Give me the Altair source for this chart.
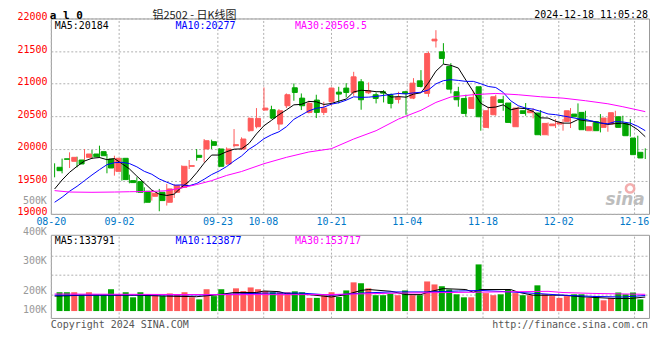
import altair as alt
import pandas as pd

MONO = "DejaVu Sans Mono"
CJK = "Noto Sans CJK SC"

# ---------------- data ----------------
tick_idx = [0, 9, 22, 28, 37, 47, 57, 67, 77]
tick_lbl = ["08-20", "09-02", "09-23", "10-08", "10-21", "11-04", "11-18", "12-02", "12-16"]

opens = [19715, 19845, 19807, 19827, 19868, 19919, 19955, 19842, 19653, 19853,
         19510, 19495, 19347, 19270, 19331, 19178, 19331, 19408, 19730, 19899,
         19996, 20108, 19996, 19766, 20047, 19996, 20277, 20338, 20594, 20599,
         20379, 20660, 20936, 20777, 20558, 20747, 20558, 20721, 20869, 20931,
         20864, 21028, 20859, 20829, 20875, 20829, 20757, 20875, 20777, 21043,
         20849, 21656, 21488, 21263, 20875, 20772, 20619, 20951, 20328, 20522,
         20752, 20701, 20338, 20583, 20553, 20548, 20215, 20353, 20379, 20420,
         20532, 20558, 20277, 20415, 20328, 20379, 20491, 20389, 20164, 19945]
closes = [19663, 19838, 19868, 19766, 19919, 19878, 19893, 19704, 19853, 19526,
          19480, 19331, 19178, 19316, 19204, 19383, 19434, 19730, 19740, 19868,
          20123, 20052, 19730, 19996, 20062, 20149, 20466, 20466, 20624, 20471,
          20583, 20829, 20864, 20660, 20696, 20558, 20624, 20931, 20839, 20864,
          21104, 20752, 20890, 20772, 20854, 20696, 20788, 20849, 21007, 20956,
          21462, 21682, 21386, 20915, 20752, 20542, 20788, 20491, 20583, 20798,
          20711, 20404, 20624, 20542, 20583, 20215, 20389, 20379, 20399, 20583,
          20491, 20292, 20338, 20277, 20471, 20553, 20328, 20200, 19909, 19858]
highs = [19776, 19848, 19945, 19878, 19996, 19980, 20047, 19919, 19893, 19860,
         19602, 19561, 19408, 19367, 19383, 19459, 19459, 19745, 19827, 19996,
         20149, 20139, 20011, 20021, 20302, 20175, 20481, 20624, 20941, 20660,
         20609, 20849, 21002, 20849, 20737, 20829, 20721, 20941, 20951, 21007,
         21181, 21069, 21018, 20864, 20900, 20849, 20875, 20890, 21084, 21207,
         21493, 21820, 21621, 21314, 20951, 20829, 20890, 20960, 20645, 20829,
         20813, 20711, 20645, 20701, 20624, 20594, 20404, 20456, 20456, 20624,
         20696, 20583, 20404, 20532, 20481, 20583, 20507, 20456, 20200, 20006]
lows = [19561, 19622, 19704, 19715, 19817, 19842, 19857, 19623, 19587, 19510,
        19469, 19325, 19163, 19204, 19040, 19127, 19245, 19383, 19689, 19817,
        19791, 19996, 19715, 19755, 20021, 19980, 20261, 20313, 20583, 20456,
        20287, 20624, 20737, 20594, 20542, 20471, 20517, 20660, 20696, 20788,
        20813, 20599, 20839, 20696, 20711, 20619, 20696, 20522, 20762, 20941,
        20798, 21554, 21299, 20849, 20645, 20491, 20609, 20277, 20313, 20507,
        20583, 20389, 20330, 20507, 20466, 20200, 20200, 20318, 20277, 20318,
        20456, 20277, 20266, 20251, 20261, 20328, 20200, 20185, 19893, 19842]
ma5 = [19382, 19520, 19638, 19730, 19811, 19854, 19865, 19832, 19849, 19771,
       19691, 19579, 19474, 19366, 19302, 19282, 19303, 19413, 19498, 19631,
       19779, 19903, 19903, 19954, 19993, 19998, 20081, 20228, 20353, 20435,
       20522, 20595, 20674, 20681, 20726, 20721, 20680, 20694, 20730, 20763,
       20872, 20898, 20890, 20876, 20874, 20793, 20800, 20792, 20839, 20859,
       21012, 21191, 21299, 21280, 21239, 21055, 20877, 20698, 20631, 20640,
       20674, 20597, 20624, 20616, 20573, 20474, 20471, 20422, 20393, 20393,
       20448, 20429, 20421, 20396, 20374, 20386, 20393, 20366, 20292, 20184]
ma10 = [19178, 19255, 19347, 19423, 19510, 19597, 19679, 19755, 19786, 19791,
        19773, 19722, 19653, 19608, 19536, 19487, 19441, 19444, 19432, 19466,
        19531, 19603, 19658, 19726, 19812, 19888, 19992, 20065, 20154, 20214,
        20260, 20338, 20451, 20517, 20581, 20622, 20638, 20684, 20706, 20745,
        20797, 20789, 20792, 20803, 20819, 20833, 20849, 20841, 20858, 20867,
        20903, 20996, 21045, 21060, 21049, 21034, 21034, 20998, 20956, 20940,
        20865, 20737, 20661, 20624, 20607, 20574, 20534, 20523, 20504, 20483,
        20461, 20450, 20421, 20395, 20383, 20417, 20411, 20393, 20344, 20277]
ma30_idx = [0, 2, 5, 8, 10, 13, 15, 17, 19, 21, 23, 25, 28, 31, 34, 37, 40, 43, 46, 49,
            51, 53, 56, 59, 62, 65, 68, 71, 74, 76, 79]
ma30_val = [19357, 19335, 19331, 19335, 19340, 19345, 19355, 19400, 19450, 19510,
            19590, 19650, 19770, 19868, 19950, 20000, 20149, 20277, 20456, 20590,
            20711, 20795, 20830, 20849, 20829, 20798, 20777, 20737, 20690, 20645, 20569.5]

# volume in thousands, on the reference's own (label) scale
volumes = [197, 197, 197, 189, 197, 189, 189, 207, 189, 197,
           180, 197, 189, 189, 184, 193, 189, 197, 180, 173,
           207, 184, 207, 192, 210, 201, 213, 207, 201, 197,
           197, 197, 200, 197, 178, 178, 187, 197, 181, 203,
           230, 227, 210, 187, 187, 192, 187, 203, 187, 187,
           233, 223, 217, 206, 190, 180, 180, 290, 194, 187,
           190, 206, 194, 187, 187, 220, 190, 184, 178, 184,
           190, 190, 178, 184, 170, 178, 196, 190, 196, 173]
vma5_idx = [0, 4, 6, 11, 15, 19, 22, 24, 27, 28, 30, 31, 34, 36, 37, 39, 41, 42, 45, 47,
            49, 50, 52, 55, 56, 57, 61, 62, 64, 68, 71, 75, 77, 79]
vma5_val = [184, 187, 187, 187, 184, 182, 189, 196, 196, 201, 199, 192, 189, 184, 181, 189,
            203, 206, 200, 189, 189, 198, 209, 206, 197, 206, 206, 197, 187, 187, 181, 176, 176, 181]
vma10_idx = [0, 10, 20, 24, 28, 33, 36, 37, 41, 45, 50, 54, 57, 61, 65, 68, 72, 76, 79]
vma10_val = [187, 188, 188, 191, 194, 194, 189, 187, 194, 198, 198, 201, 203, 198, 192, 187, 183, 181, 186]
vma30_idx = [0, 20, 36, 46, 56, 66, 68, 72, 79]
vma30_val = [191, 189, 189, 194, 197, 200, 196, 193, 190]

price_ticks = [19000, 19500, 20000, 20500, 21000, 21500, 22000]
vol_grid = [320, 257, 190]
vol_label_text = ["400K", "300K", "200K", "100K"]
vol_label_pos = [400, 300, 200, 137]
VOL_BASE = 134

price_ma_text = ["MA5:20184", "MA10:20277", "MA30:20569.5"]
vol_ma_text = ["MA5:133791", "MA10:123877", "MA30:153717"]
ma_colors = ["#000000", "#0000FF", "#FF00FF"]

# ---------------- styling ----------------
W, H_MAIN, H_VOL = 600, 196, 83.4
RED, GREEN = "#FF5A5A", "#00A600"
GRID = "#B0B0B0"

n = len(closes)
df = pd.DataFrame({"i": list(range(n)), "open": opens, "high": highs, "low": lows,
                   "close": closes, "vol": volumes, "ma5": ma5, "ma10": ma10})
df["dir"] = ["up" if c >= o else "down" for o, c in zip(opens, closes)]
ma30_df = pd.DataFrame({"i": ma30_idx, "v": ma30_val})
vma5_df = pd.DataFrame({"i": vma5_idx, "v": vma5_val})
vma10_df = pd.DataFrame({"i": vma10_idx, "v": vma10_val})
vma30_df = pd.DataFrame({"i": vma30_idx, "v": vma30_val})
tick_df = pd.DataFrame({"t": tick_idx})
vlab_df = pd.DataFrame({"lbl": vol_label_text, "pos": vol_label_pos})

xc = alt.Scale(domain=[-0.5, n - 0.5], nice=False, zero=False)
xg = alt.Scale(domain=[0, n - 1], nice=False, zero=False)
yp = alt.Scale(domain=[19000, 22000], nice=False, zero=False)
yv = alt.Scale(domain=[111, 389], nice=False, zero=False)
cs = alt.Scale(domain=["up", "down"], range=[RED, GREEN])

label_expr = " : ".join(f"datum.value == {t} ? '{l}'" for t, l in zip(tick_idx, tick_lbl)) + " : ''"

yaxis = alt.Axis(values=price_ticks, format="d", grid=True, gridDash=[2, 2], gridColor=GRID,
                 ticks=False, tickSize=0, domain=False, labelColor="#FF0000", labelFont=MONO,
                 labelFontSize=10, labelPadding=4, labelOffset=-2, title=None)
vaxis = alt.Axis(values=vol_grid, grid=True, gridDash=[2, 2], gridColor=GRID, ticks=False,
                 tickSize=0, domain=False, labels=False, title=None)


def XC():
    return alt.X("i:Q", scale=xc, axis=None)


def YP(f):
    return alt.Y(f"{f}:Q", scale=yp, axis=yaxis)


def YV(f):
    return alt.Y(f"{f}:Q", scale=yv, axis=vaxis)


def txt(s, x, y, color, size=10, align="left", baseline="middle", font=MONO,
        weight="normal", style="normal"):
    return alt.Chart(pd.DataFrame({"s": [s]})).mark_text(
        align=align, baseline=baseline, font=font, fontSize=size, fontWeight=weight,
        fontStyle=style, color=color
    ).encode(x=alt.value(x), y=alt.value(y), text="s:N")


def xgrid(labels):
    if labels:
        ax = alt.Axis(values=tick_idx, labelExpr=label_expr, grid=True, gridDash=[2, 2],
                      gridColor=GRID, ticks=False, tickSize=0, domain=False,
                      labelColor="#0078C8", labelFont=MONO, labelFontSize=10, labelPadding=3,
                      labelFlush=False, labelOverlap=False, title=None)
    else:
        ax = alt.Axis(values=tick_idx, grid=True, gridDash=[2, 2], gridColor=GRID, ticks=False,
                      tickSize=0, domain=False, title=None, labels=False)
    return alt.Chart(tick_df).mark_rule(strokeOpacity=0).encode(
        x=alt.X("t:Q", scale=xg, axis=ax))


# ---------------- price panel ----------------
wicks = alt.Chart(df).mark_rule(strokeWidth=1).encode(
    x=XC(), y=YP("low"), y2="high:Q",
    color=alt.Color("dir:N", scale=cs, legend=None))
bodies = alt.Chart(df).mark_bar(size=5, strokeWidth=1).encode(
    x=XC(), y=YP("open"), y2="close:Q",
    color=alt.Color("dir:N", scale=cs, legend=None),
    stroke=alt.Stroke("dir:N", scale=cs, legend=None))
l5 = alt.Chart(df).mark_line(color=ma_colors[0], strokeWidth=1).encode(x=XC(), y=YP("ma5"))
l10 = alt.Chart(df).mark_line(color=ma_colors[1], strokeWidth=1).encode(x=XC(), y=YP("ma10"))
l30 = alt.Chart(ma30_df).mark_line(color=ma_colors[2], strokeWidth=1).encode(x=XC(), y=YP("v"))

anchor = alt.Chart(pd.DataFrame({"a": [0]})).mark_rect(color="white").encode(
    x=alt.value(-42), x2=alt.value(-41), y=alt.value(-9.3), y2=alt.value(-8.3))

logo_eye = alt.Chart(pd.DataFrame({"a": [0]})).mark_point(
    shape="circle", size=70, filled=False, stroke="#F2A6A6", strokeWidth=2.5, opacity=0.9
).encode(x=alt.value(581), y=alt.value(170.5))

main_texts = [
    txt(price_ma_text[0], 4, 8.0, ma_colors[0]),
    txt(price_ma_text[1], 125, 8.0, ma_colors[1]),
    txt(price_ma_text[2], 245, 8.0, ma_colors[2]),
    txt("500K", -4, 182.7, "#999999", align="right"),
    txt("a l 0", -1, -8.8, "#000000", size=11, baseline="top", weight="bold"),
    txt("铝2502  -  日K线图", 144, -8.3, "#222222", size=11, align="center", baseline="top", font=CJK),
    txt("2024-12-18 11:05:28", 599, -8.8, "#000000", align="right", baseline="top"),
    txt("sina", 576, 182, "#BDBDBD", size=17, align="center", font="DejaVu Sans",
        weight="bold", style="italic"),
]

main = alt.layer(xgrid(True), wicks, bodies, l5, l10, l30, logo_eye, *main_texts, anchor).resolve_scale(
    x="independent").properties(width=W, height=H_MAIN)

# ---------------- volume panel ----------------
vbars = alt.Chart(df).mark_bar(size=6).encode(
    x=XC(), y=YV("vol"), y2=alt.datum(VOL_BASE),
    color=alt.Color("dir:N", scale=cs, legend=None))
v5 = alt.Chart(vma5_df).mark_line(color=ma_colors[0], strokeWidth=1).encode(x=XC(), y=YV("v"))
v10 = alt.Chart(vma10_df).mark_line(color=ma_colors[1], strokeWidth=1).encode(x=XC(), y=YV("v"))
v30 = alt.Chart(vma30_df).mark_line(color=ma_colors[2], strokeWidth=1).encode(x=XC(), y=YV("v"))
vlabels = alt.Chart(vlab_df).mark_text(align="right", baseline="middle", font=MONO, fontSize=10,
                                        color="#999999").encode(
    x=alt.value(-4), y=YV("pos"), text="lbl:N")

vol_texts = [
    txt(vol_ma_text[0], 4, 6.7, ma_colors[0]),
    txt(vol_ma_text[1], 125, 6.7, ma_colors[1]),
    txt(vol_ma_text[2], 245, 6.7, ma_colors[2]),
    txt("Copyright 2024 SINA.COM", 0, H_VOL + 7, "#555555"),
    txt("http://finance.sina.com.cn", 599, H_VOL + 7, "#555555", align="right"),
]

vol = alt.layer(xgrid(False), vbars, v5, v10, v30, vlabels, *vol_texts).resolve_scale(
    x="independent").properties(width=W, height=H_VOL)

chart = alt.vconcat(main, vol, spacing=21, bounds="flush").properties(
    padding={"left": 0, "top": 0, "right": 2, "bottom": 2}
).configure_view(stroke="#999999", strokeWidth=1)

chart.save("out.html", embed_options={"renderer": "svg", "actions": False})
